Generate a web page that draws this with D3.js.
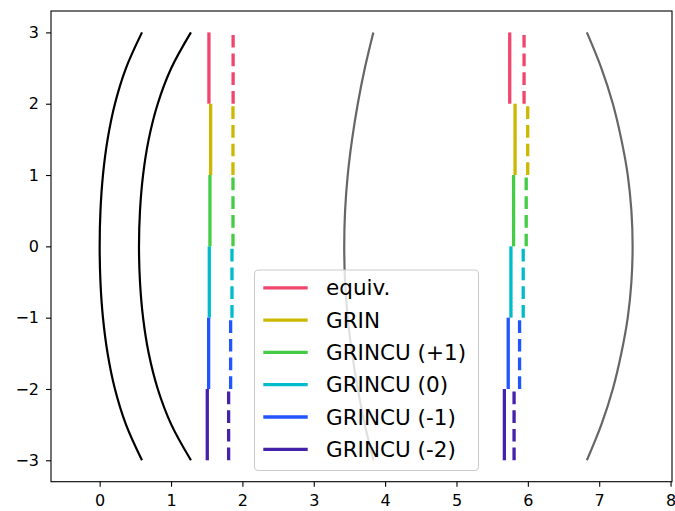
<!DOCTYPE html>
<html>
<head>
<meta charset="utf-8">
<script src="https://cdn.jsdelivr.net/npm/d3@7"></script>
<style>
    body { margin: 0; background: white; }
    svg { display: block; font-family: 'DejaVu Sans', sans-serif; }
</style>
</head>
<body>
<svg id="chart" width="675" height="511"></svg>
<script>
// y levels where the lens surfaces were sampled
const arcY = [-3, -2.5, -2, -1.5, -1, -0.5, 0, 0.5, 1, 1.5, 2, 2.5, 3];

// lens surfaces, x read at each arcY
const frontSurface = [0.593, 0.369, 0.214, 0.111, 0.046, 0.011, 0, 0.011, 0.046, 0.111, 0.214, 0.369, 0.593];
const backSurface = [1.279, 1.004, 0.814, 0.687, 0.608, 0.565, 0.551, 0.565, 0.608, 0.687, 0.814, 1.004, 1.279];
const secondFront = [3.835, 3.716, 3.617, 3.537, 3.476, 3.439, 3.427, 3.439, 3.476, 3.537, 3.617, 3.716, 3.835];
const secondBack = [6.827, 7.03, 7.191, 7.31, 7.40, 7.451, 7.468, 7.451, 7.40, 7.31, 7.191, 7.03, 6.827];

// one band per label
const labels = ['equiv.', 'GRIN', 'GRINCU (+1)', 'GRINCU (0)', 'GRINCU (-1)', 'GRINCU (-2)'];
const colors = ['#f0466e', '#ccb800', '#44cc44', '#00bccb', '#2255ff', '#4422aa'];
const bandTop = [3, 2, 1, 0, -1, -2];
const bandBottom = [2, 1, 0, -1, -2, -3];

// focal positions per band
const leftSolid = [1.531, 1.555, 1.545, 1.536, 1.527, 1.508];
const leftDashed = [1.870, 1.868, 1.868, 1.854, 1.835, 1.807];
const rightSolid = [5.746, 5.821, 5.800, 5.763, 5.725, 5.671];
const rightDashed = [5.947, 5.998, 5.977, 5.935, 5.884, 5.807];

const xTicks = [0, 1, 2, 3, 4, 5, 6, 7, 8];
const yTicks = [-3, -2, -1, 0, 1, 2, 3];

const svg = d3.select('#chart');

const plot = { left: 51, right: 672, top: 11, bottom: 481.7 };

const x = d3.scaleLinear()
    .domain([-0.682, 8.02])
    .range([plot.left, plot.right]);

const y = d3.scaleLinear()
    .domain([-3.3, 3.3])
    .range([plot.bottom, plot.top]);

const fmt = (d) => d < 0 ? '\u2212' + Math.abs(d) : String(d);

//--------------------------------------------------SURFACES
const surfaceLine = d3.line()
    .x((d) => x(d[0]))
    .y((d) => y(d[1]))
    .curve(d3.curveCatmullRom);

const surfaces = [
    { xs: frontSurface, color: 'black' },
    { xs: backSurface, color: 'black' },
    { xs: secondFront, color: '#666666' },
    { xs: secondBack, color: '#666666' }
];

svg.append('g')
    .attr('class', 'surfaces')
    .selectAll('path')
    .data(surfaces)
    .enter().append('path')
    .attr('d', (s) => surfaceLine(s.xs.map((v, i) => [v, arcY[i]])))
    .attr('fill', 'none')
    .attr('stroke', (s) => s.color)
    .attr('stroke-width', 2.2);

//--------------------------------------------------FOCAL SEGMENTS
const bands = labels.map((label, i) => ({
    label,
    color: colors[i],
    top: bandTop[i],
    bottom: bandBottom[i],
    positions: [
        { x: leftSolid[i], dashed: false },
        { x: leftDashed[i], dashed: true },
        { x: rightSolid[i], dashed: false },
        { x: rightDashed[i], dashed: true }
    ]
}));

const bandGroup = svg.append('g')
    .attr('class', 'bands')
    .selectAll('g')
    .data(bands)
    .enter().append('g');

bandGroup.selectAll('path')
    .data((b) => b.positions.map((p) => ({ ...p, b })))
    .enter().append('path')
    // drawn bottom to top so the dashes start at the lower end
    .attr('d', (p) => `M${x(p.x)},${y(p.b.bottom)}L${x(p.x)},${y(p.b.top)}`)
    .attr('stroke', (p) => p.b.color)
    .attr('stroke-width', 3.3)
    .attr('stroke-dasharray', (p) => p.dashed ? '12.7,6' : null)
    .attr('fill', 'none');

//--------------------------------------------------AXES
const xAxis = svg.append('g')
    .attr('transform', `translate(0,${plot.bottom})`)
    .call(d3.axisBottom(x).tickValues(xTicks).tickFormat(fmt).tickSize(5).tickPadding(7.5));

const yAxis = svg.append('g')
    .attr('transform', `translate(${plot.left},0)`)
    .call(d3.axisLeft(y).tickValues(yTicks).tickFormat(fmt).tickSize(5).tickPadding(7));

[xAxis, yAxis].forEach((a) => {
    a.select('.domain').remove();
    a.selectAll('line').attr('stroke', 'black').attr('stroke-width', 1.1);
    a.selectAll('text')
        .style('font-family', "'DejaVu Sans', sans-serif")
        .style('font-size', '16px')
        .attr('fill', 'black');
});

svg.append('rect')
    .attr('x', plot.left)
    .attr('y', plot.top)
    .attr('width', plot.right - plot.left)
    .attr('height', plot.bottom - plot.top)
    .attr('fill', 'none')
    .attr('stroke', 'black')
    .attr('stroke-width', 1.1);

//--------------------------------------------------LEGEND
const legend = svg.append('g').attr('class', 'legend');

legend.append('rect')
    .attr('x', 254.5)
    .attr('y', 270)
    .attr('width', 224)
    .attr('height', 200.5)
    .attr('rx', 4)
    .attr('fill', 'white')
    .attr('fill-opacity', 0.8)
    .attr('stroke', '#cccccc')
    .attr('stroke-width', 1.1);

const legendRow = legend.selectAll('g.row')
    .data(bands)
    .enter().append('g')
    .attr('class', 'row')
    .attr('transform', (d, i) => `translate(0,${287.8 + i * 32.3})`);

legendRow.append('line')
    .attr('x1', 263.3)
    .attr('x2', 307.7)
    .attr('stroke', (d) => d.color)
    .attr('stroke-width', 3.3);

legendRow.append('text')
    .text((d) => d.label)
    .attr('x', 326)
    .attr('y', 7.5)
    .style('font-size', '21.5px')
    .style('fill', 'black');
</script>
</body>
</html>
